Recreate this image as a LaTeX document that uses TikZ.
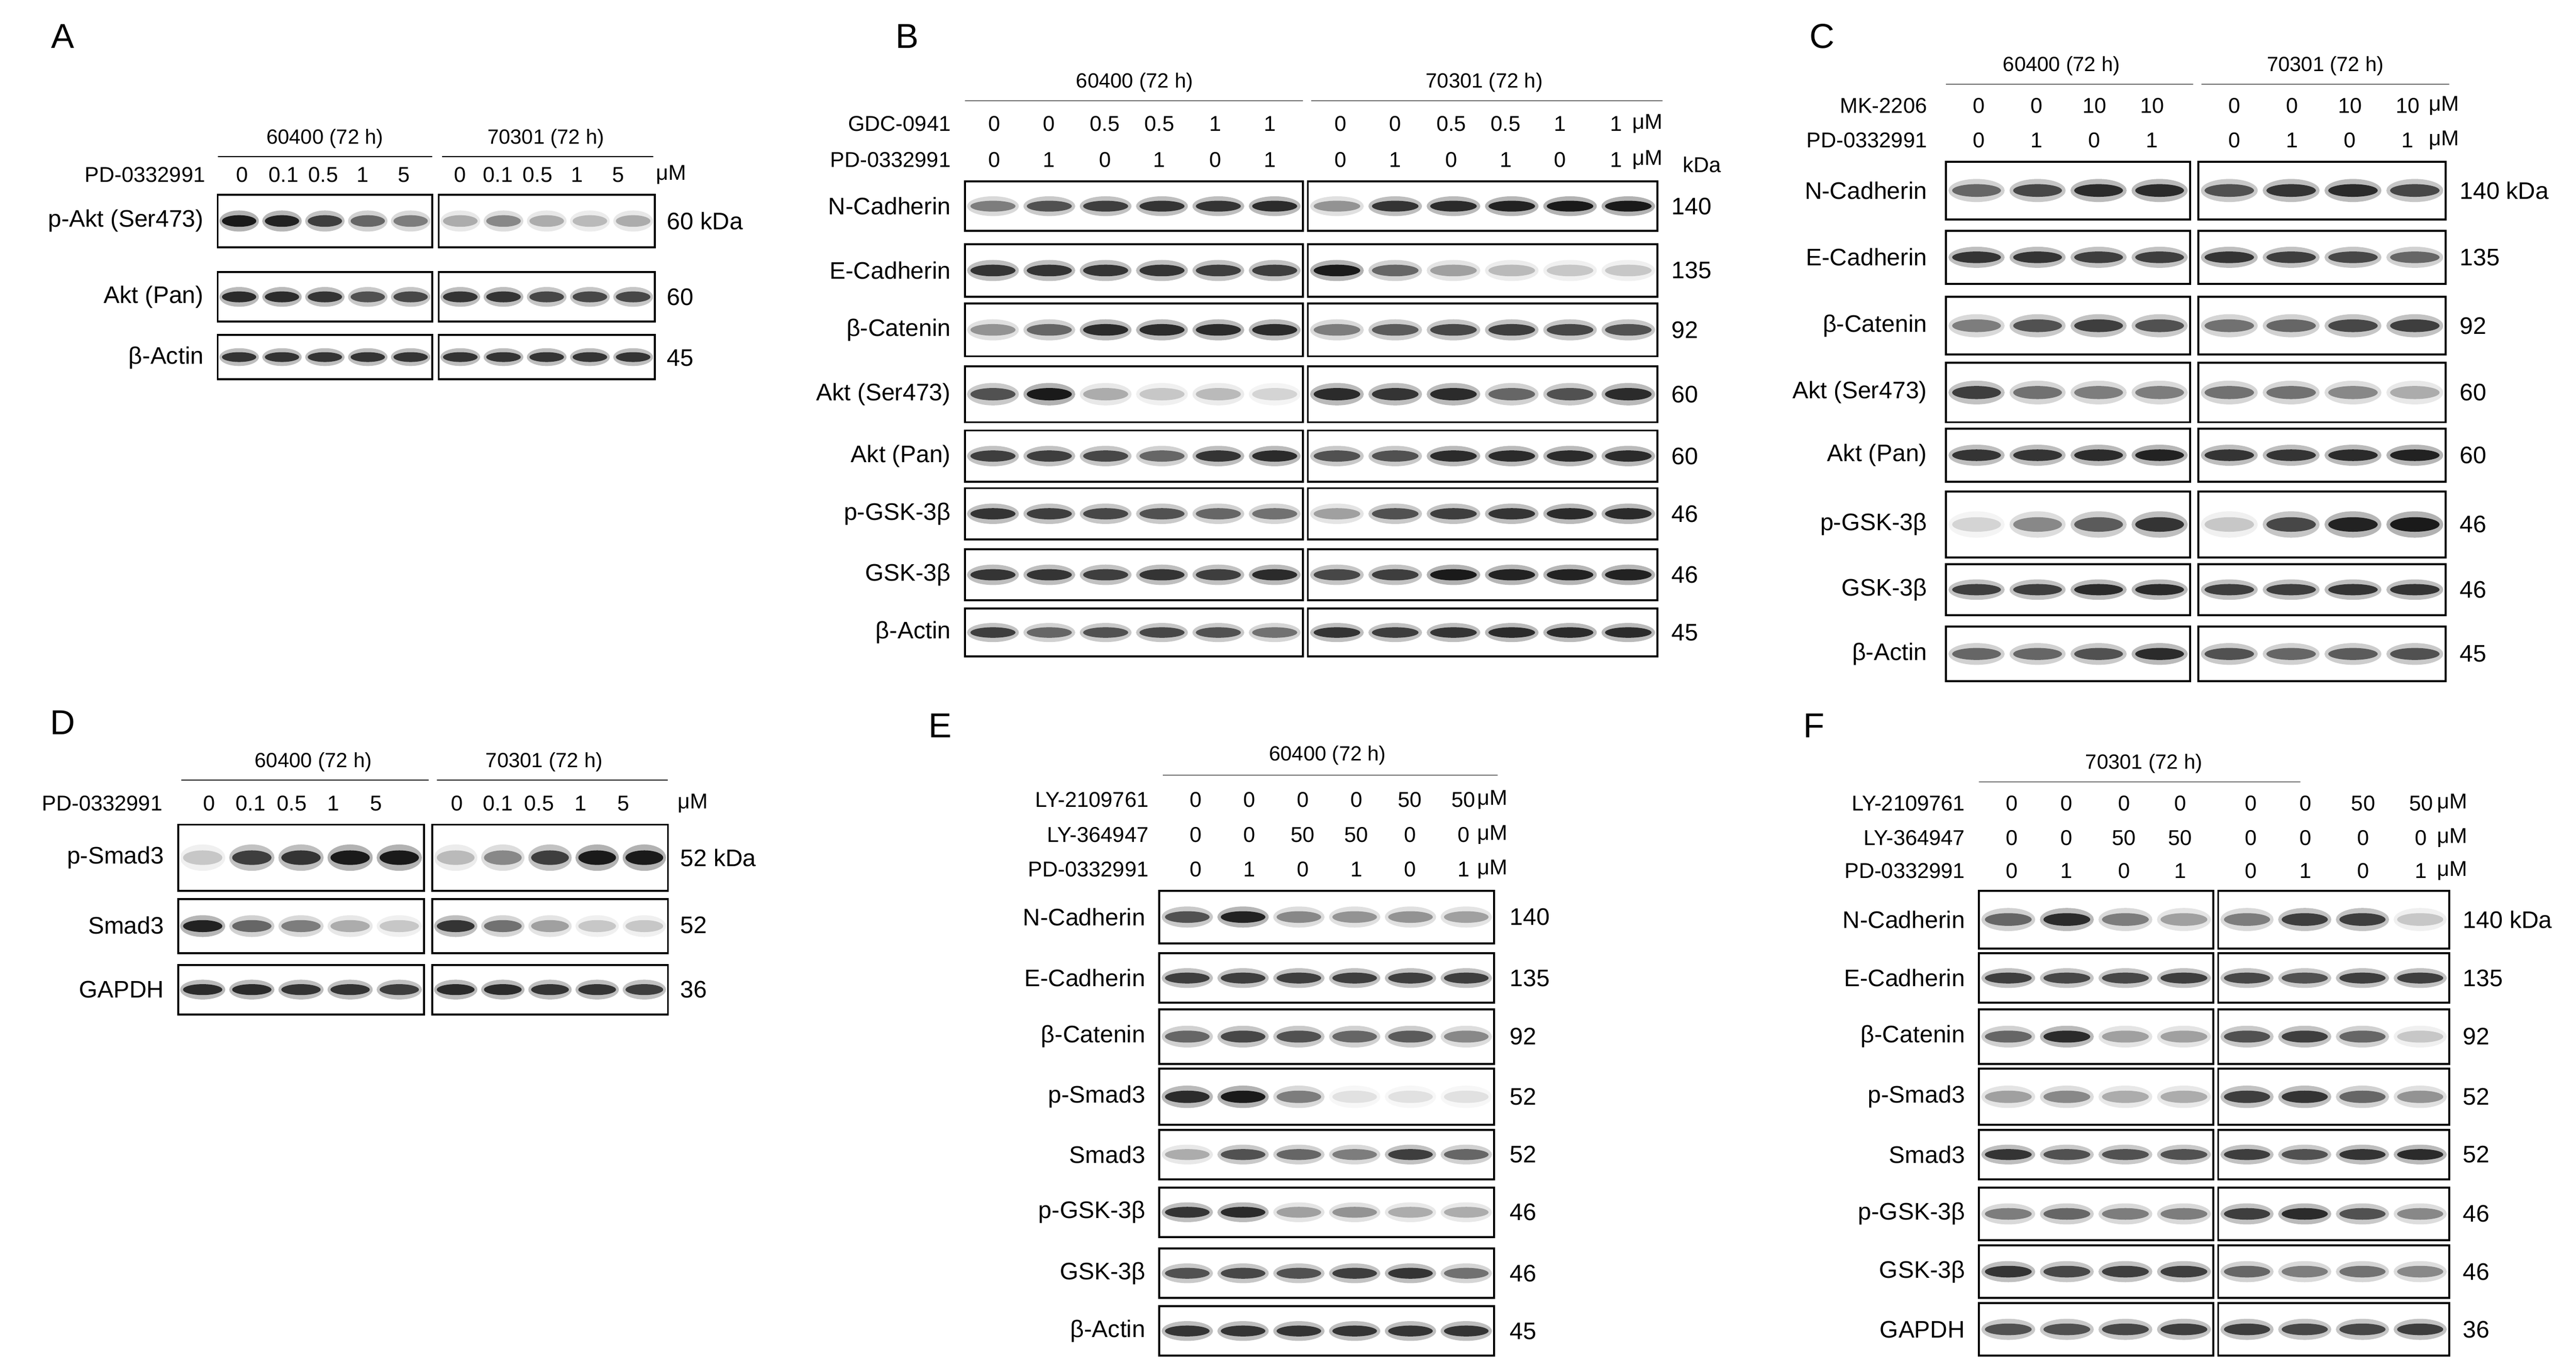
\documentclass[tikz,border=0pt]{standalone}
\usepackage{fontspec}
\setmainfont{Liberation Sans}
\newcommand\blot[6]{%
 \fill[white] (#1,#3) rectangle (#2,#4);
 \edef\blotlist{#6}%
 \foreach \v [count=\i] in \blotlist {%
  \fill[black,opacity={0.3*\v}] ({#1+(\i-0.5)*(#2-#1)/#5},{(#3+#4)/2}) ellipse [x radius={0.46*(#2-#1)/#5}, y radius={0.2*(#4-#3)}];
  \fill[black,opacity={0.85*\v}] ({#1+(\i-0.5)*(#2-#1)/#5},{(#3+#4)/2}) ellipse [x radius={0.4*(#2-#1)/#5}, y radius={0.11*(#4-#3)}];
 }
 \draw[line width=1.2pt] (#1,#3) rectangle (#2,#4);}
\newcommand\rl[3]{\node[anchor=east,font=\fontsize{14.5}{16}\selectfont] at (#1,{#2}) {#3};}
\newcommand\kd[3]{\node[anchor=west,font=\fontsize{14.5}{16}\selectfont] at (#1,{#2}) {#3};}
\tikzset{hd/.style={font=\fontsize{12.5}{14}\selectfont},vl/.style={font=\fontsize{13}{15}\selectfont},pl/.style={font=\fontsize{21}{24}\selectfont}}
\begin{document}
\begin{tikzpicture}[x=1pt,y=-1pt]
\useasboundingbox[fill=white] (0,0) rectangle (1562,830);
% ---------- A
\node[pl] at (38,22) {A};
\node[hd] at (197,84) {60400 (72 h)}; \draw (132,95)--(262,95);
\node[hd] at (331,84) {70301 (72 h)}; \draw (268,95)--(396,95);
\node[vl,anchor=east] at (128,106) {PD-0332991};
\foreach \t/\x in {0/147,0.1/172,0.5/196,1/220,5/245,0/279,0.1/302,0.5/326,1/350,5/375} \node[vl] at (\x,106) {\t};
\node[vl] at (407,106) {μM};
\blot{132}{262}{118}{150}{5}{1,0.95,0.8,0.6,0.5}
\blot{266}{397}{118}{150}{5}{0.3,0.45,0.3,0.25,0.3}
\blot{132}{262}{165}{195}{5}{0.9,0.9,0.85,0.7,0.75}
\blot{266}{397}{165}{195}{5}{0.85,0.85,0.75,0.75,0.75}
\blot{132}{262}{203}{230}{5}{0.85,0.85,0.85,0.85,0.85}
\blot{266}{397}{203}{230}{5}{0.85,0.85,0.85,0.85,0.85}
\rl{127}{134}{p-Akt (Ser473)}\rl{127}{180}{Akt (Pan)}\rl{127}{217}{β-Actin}
\kd{401}{134}{60 kDa}\kd{401}{180}{60}\kd{401}{217}{45}
% ---------- B
\node[pl] at (550,22) {B};
\node[hd] at (688,50) {60400 (72 h)}; \draw (585,61)--(790,61);
\node[hd] at (900,50) {70301 (72 h)}; \draw (795,61)--(1008,61);
\node[vl,anchor=east] at (580,75) {GDC-0941};
\node[vl,anchor=east] at (580,97) {PD-0332991};
\foreach \t/\x in {0/603,0/636,0.5/670,0.5/703,1/737,1/770,0/813,0/846,0.5/880,0.5/913,1/946,1/980} \node[vl] at (\x,75) {\t};
\foreach \t/\x in {0/603,1/636,0/670,1/703,0/737,1/770,0/813,1/846,0/880,1/913,0/946,1/980} \node[vl] at (\x,97) {\t};
\node[vl] at (999,75) {μM}; \node[vl] at (999,97) {μM}; \node[vl] at (1032,100) {kDa};
\foreach \yt/\yb/\a/\b/\lab/\k in {
 110/140/{0.5,0.7,0.8,0.85,0.85,0.9}/{0.4,0.85,0.9,0.95,1,1}/N-Cadherin/140,
 148/180/{0.85,0.85,0.85,0.85,0.8,0.8}/{1,0.6,0.35,0.25,0.2,0.2}/E-Cadherin/135,
 184/216/{0.4,0.6,0.9,0.9,0.9,0.9}/{0.5,0.65,0.75,0.8,0.75,0.7}/β-Catenin/92,
 222/256/{0.7,1,0.3,0.2,0.25,0.15}/{0.9,0.85,0.9,0.6,0.7,0.9}/Akt (Ser473)/60,
 261/292/{0.8,0.8,0.75,0.6,0.85,0.9}/{0.7,0.7,0.9,0.9,0.9,0.9}/Akt (Pan)/60,
 296/327/{0.85,0.8,0.75,0.7,0.6,0.55}/{0.35,0.7,0.8,0.85,0.9,0.9}/p-GSK-3β/46,
 333/364/{0.85,0.85,0.8,0.85,0.8,0.9}/{0.75,0.8,1,0.95,0.95,0.95}/GSK-3β/46,
 369/398/{0.8,0.6,0.7,0.75,0.7,0.55}/{0.85,0.8,0.85,0.9,0.9,0.9}/β-Actin/45} {
 \blot{585}{790}{\yt}{\yb}{6}{\a}
 \blot{793}{1005}{\yt}{\yb}{6}{\b}
 \rl{580}{(\yt+\yb)/2}{\lab}\kd{1010}{(\yt+\yb)/2}{\k}}
% ---------- C
\node[pl] at (1105,22) {C};
\node[hd] at (1250,40) {60400 (72 h)}; \draw (1180,51)--(1330,51);
\node[hd] at (1410,40) {70301 (72 h)}; \draw (1335,51)--(1485,51);
\node[vl,anchor=east] at (1172,64) {MK-2206};
\node[vl,anchor=east] at (1172,85) {PD-0332991};
\foreach \t/\x in {0/1200,0/1235,10/1270,10/1305,0/1355,0/1390,10/1425,10/1460} \node[vl] at (\x,64) {\t};
\foreach \t/\x in {0/1200,1/1235,0/1270,1/1305,0/1355,1/1390,0/1425,1/1460} \node[vl] at (\x,85) {\t};
\node[vl] at (1482,64) {μM}; \node[vl] at (1482,85) {μM};
\foreach \yt/\yb/\a/\b/\lab/\k in {
 98/133/{0.6,0.75,0.9,0.9}/{0.7,0.85,0.9,0.75}/N-Cadherin/140 kDa,
 140/172/{0.85,0.85,0.8,0.8}/{0.85,0.8,0.75,0.6}/E-Cadherin/135,
 180/215/{0.5,0.7,0.8,0.7}/{0.55,0.6,0.75,0.8}/β-Catenin/92,
 220/256/{0.8,0.55,0.5,0.5}/{0.55,0.55,0.45,0.3}/Akt (Ser473)/60,
 260/292/{0.85,0.85,0.9,0.95}/{0.85,0.85,0.9,0.95}/Akt (Pan)/60,
 298/338/{0.15,0.45,0.65,0.85}/{0.2,0.75,0.95,1}/p-GSK-3β/46,
 342/373/{0.8,0.8,0.9,0.9}/{0.8,0.8,0.85,0.85}/GSK-3β/46,
 380/413/{0.6,0.6,0.7,0.9}/{0.7,0.6,0.65,0.7}/β-Actin/45} {
 \blot{1180}{1328}{\yt}{\yb}{4}{\a}
 \blot{1333}{1483}{\yt}{\yb}{4}{\b}
 \rl{1172}{(\yt+\yb)/2}{\lab}\kd{1488}{(\yt+\yb)/2}{\k}}
% ---------- D
\node[pl] at (38,438) {D};
\node[hd] at (190,462) {60400 (72 h)}; \draw (110,473)--(260,473);
\node[hd] at (330,462) {70301 (72 h)}; \draw (265,473)--(405,473);
\node[vl,anchor=east] at (102,487) {PD-0332991};
\foreach \t/\x in {0/127,0.1/152,0.5/177,1/202,5/228,0/277,0.1/302,0.5/327,1/352,5/378} \node[vl] at (\x,487) {\t};
\node[vl] at (420,487) {μM};
\blot{108}{257}{500}{540}{5}{0.2,0.8,0.85,1,1}
\blot{262}{405}{500}{540}{5}{0.25,0.45,0.8,1,1}
\blot{108}{257}{545}{578}{5}{0.95,0.6,0.5,0.3,0.2}
\blot{262}{405}{545}{578}{5}{0.85,0.55,0.35,0.2,0.2}
\blot{108}{257}{585}{615}{5}{0.9,0.9,0.85,0.85,0.8}
\blot{262}{405}{585}{615}{5}{0.9,0.9,0.85,0.85,0.8}
\rl{103}{520}{p-Smad3}\rl{103}{561}{Smad3}\rl{103}{600}{GAPDH}
\kd{409}{520}{52 kDa}\kd{409}{561}{52}\kd{409}{600}{36}
% ---------- E
\node[pl] at (570,440) {E};
\node[hd] at (805,458) {60400 (72 h)}; \draw (705,470)--(908,470);
\node[vl,anchor=east] at (700,485) {LY-2109761};
\node[vl,anchor=east] at (700,506) {LY-364947};
\node[vl,anchor=east] at (700,527) {PD-0332991};
\foreach \p/\q/\r [count=\i] in {0/0/0,0/0/1,0/50/0,0/50/1,50/0/0,50/0/1} {
 \node[vl] at ({725+(\i-1)*32.5},485) {\p};\node[vl] at ({725+(\i-1)*32.5},506) {\q};\node[vl] at ({725+(\i-1)*32.5},527) {\r};}
\node[vl] at (905,485) {μM};\node[vl] at (905,506) {μM};\node[vl] at (905,527) {μM};
\foreach \yt/\yb/\a/\lab/\k in {
 540/572/{0.7,0.95,0.45,0.4,0.4,0.35}/N-Cadherin/140,
 578/608/{0.8,0.8,0.8,0.8,0.8,0.8}/E-Cadherin/135,
 612/645/{0.6,0.75,0.7,0.6,0.65,0.45}/β-Catenin/92,
 648/682/{0.9,1,0.5,0.1,0.1,0.1}/p-Smad3/52,
 685/715/{0.3,0.7,0.6,0.5,0.8,0.6}/Smad3/52,
 720/750/{0.85,0.9,0.35,0.4,0.3,0.3}/p-GSK-3β/46,
 757/787/{0.7,0.75,0.7,0.8,0.85,0.55}/GSK-3β/46,
 792/822/{0.85,0.85,0.85,0.85,0.85,0.85}/β-Actin/45} {
 \blot{703}{906}{\yt}{\yb}{6}{\a}
 \rl{698}{(\yt+\yb)/2}{\lab}\kd{912}{(\yt+\yb)/2}{\k}}
% ---------- F
\node[pl] at (1100,440) {F};
\node[hd] at (1300,463) {70301 (72 h)}; \draw (1200,474)--(1395,474);
\node[vl,anchor=east] at (1195,487) {LY-2109761};
\node[vl,anchor=east] at (1195,508) {LY-364947};
\node[vl,anchor=east] at (1195,528) {PD-0332991};
\foreach \p/\q/\r/\x in {0/0/0/1220,0/0/1/1253,0/50/0/1288,0/50/1/1322,0/0/0/1365,0/0/1/1398,50/0/0/1433,50/0/1/1468} {
 \node[vl] at (\x,487) {\p};\node[vl] at (\x,508) {\q};\node[vl] at (\x,528) {\r};}
\node[vl] at (1487,487) {μM};\node[vl] at (1487,508) {μM};\node[vl] at (1487,528) {μM};
\foreach \yt/\yb/\a/\b/\lab/\k in {
 540/575/{0.6,0.9,0.5,0.35}/{0.5,0.8,0.8,0.2}/N-Cadherin/140 kDa,
 578/608/{0.8,0.75,0.75,0.8}/{0.75,0.7,0.8,0.8}/E-Cadherin/135,
 612/645/{0.6,0.9,0.35,0.35}/{0.7,0.8,0.6,0.2}/β-Catenin/92,
 648/682/{0.35,0.45,0.3,0.3}/{0.8,0.85,0.6,0.4}/p-Smad3/52,
 685/715/{0.85,0.7,0.7,0.7}/{0.8,0.7,0.85,0.9}/Smad3/52,
 720/752/{0.5,0.6,0.5,0.5}/{0.8,0.9,0.7,0.45}/p-GSK-3β/46,
 755/787/{0.85,0.75,0.8,0.8}/{0.6,0.5,0.55,0.45}/GSK-3β/46,
 790/822/{0.7,0.7,0.75,0.8}/{0.8,0.75,0.75,0.8}/GAPDH/36} {
 \blot{1200}{1342}{\yt}{\yb}{4}{\a}
 \blot{1345}{1485}{\yt}{\yb}{4}{\b}
 \rl{1195}{(\yt+\yb)/2}{\lab}\kd{1490}{(\yt+\yb)/2}{\k}}
\end{tikzpicture}
\end{document}
